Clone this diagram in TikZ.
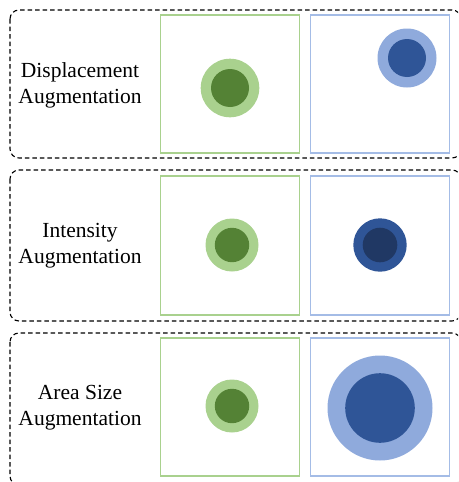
\documentclass[tikz,border=0pt]{standalone}
\usepackage{fontspec}
\setmainfont{Liberation Serif}
\definecolor{lgreen}{HTML}{A9D18E}
\definecolor{dgreen}{HTML}{548235}
\definecolor{lblue}{HTML}{8FAADC}
\definecolor{sblue}{HTML}{A4BCE6}
\definecolor{mblue}{HTML}{2F5597}
\definecolor{nblue}{HTML}{203864}
\begin{document}
\begin{tikzpicture}[x=1pt,y=-1pt,
  group/.style={draw=black,dashed,dash pattern=on 4.5pt off 3pt,line width=1.1pt,rounded corners=9pt},
  gsq/.style={draw=lgreen,line width=1.4pt},
  bsq/.style={draw=sblue,line width=1.4pt},
  lab/.style={font=\fontsize{21.5}{26}\selectfont,align=center,inner sep=0pt}]
\useasboundingbox (0,0) rectangle (458,482);
\clip (0,0) rectangle (458,482);
% groups
\draw[group] (10,10) rectangle (461,158);
\draw[group] (10,170) rectangle (461,321);
\draw[group] (10,333) rectangle (461,485);
% labels
\node[lab] (l1) at (80,85) {Displacement\\Augmentation};
\node[lab] (l2) at (80,245.5) {Intensity\\Augmentation};
\node[lab] (l3) at (80,407.5) {Area Size\\Augmentation};
% squares
\draw[gsq] (160.5,15) rectangle (299.5,153);
\draw[bsq] (310.5,15) rectangle (449.5,153);
\draw[gsq] (160.5,176) rectangle (299.5,315);
\draw[bsq] (310.5,176) rectangle (449.5,315);
\draw[gsq] (160.5,338) rectangle (299.5,476);
\draw[bsq] (310.5,338) rectangle (449.5,476);
% row 1
\fill[lgreen] (230,88) circle (29.3);
\fill[dgreen] (230,88) circle (19);
\fill[lblue] (407,58) circle (29.5);
\fill[mblue] (407,58) circle (19);
% row 2
\fill[lgreen] (232,245) circle (26.5);
\fill[dgreen] (232,245) circle (17.2);
\fill[mblue] (380,245) circle (26.7);
\fill[nblue] (380,245) circle (17.3);
% row 3
\fill[lgreen] (232,406) circle (26.5);
\fill[dgreen] (232,406) circle (17.2);
\fill[lblue] (380,408) circle (52.5);
\fill[mblue] (380,408) circle (34.8);
\end{tikzpicture}
\end{document}
